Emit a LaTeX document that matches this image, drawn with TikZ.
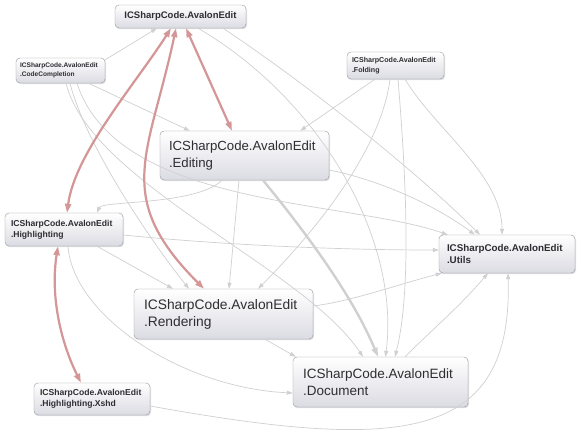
\documentclass[tikz,border=0pt]{standalone}
\usepackage{fontspec}
\setmainfont{Liberation Sans}
\usetikzlibrary{arrows.meta,shadows}

\definecolor{edgegray}{RGB}{208,208,211}
\definecolor{cycred}{RGB}{212,150,150}
\definecolor{boxline}{RGB}{150,150,158}
\definecolor{boxfill}{RGB}{219,219,227}
\definecolor{boxtext}{RGB}{45,45,50}

\begin{document}
\begin{tikzpicture}[x=1pt,y=-1pt,
        module/.style={draw=boxline, rounded corners=4pt, top color=white, bottom color=boxfill,
            text=boxtext, align=left, inner ysep=0pt,
            drop shadow={shadow xshift=1pt, shadow yshift=-1.2pt, opacity=0.25}},
        dep/.style={draw=edgegray, line width=0.7pt, -{Triangle[length=6pt,width=4pt]}},
        cyc/.style={draw=cycred, line width=2.2pt,
            {Triangle[length=9pt,width=6pt]}-{Triangle[length=9pt,width=6pt]}}]

            \fill[white] (0,0) rectangle (583,439);
            \useasboundingbox (0,0) rectangle (583,439);

            \node[module, minimum width=131pt, minimum height=23pt, align=center,
                font={\bfseries\fontsize{9.5}{11}\selectfont}] (ae) at (180.5,16.5) {ICSharpCode.AvalonEdit};
            \node[module, text width=81pt, inner xsep=4pt, minimum height=25pt,
                font={\bfseries\fontsize{6.6}{9}\selectfont}] (cc) at (60.5,70.5) {ICSharpCode.AvalonEdit\\.CodeCompletion};
            \node[module, text width=87pt, inner xsep=5pt, minimum height=27pt,
                font={\bfseries\fontsize{7.1}{10}\selectfont}] (fo) at (395.5,65.5) {ICSharpCode.AvalonEdit\\.Folding};
            \node[module, text width=151pt, inner xsep=9pt, minimum height=49pt,
                font={\fontsize{13.2}{16.5}\selectfont}] (ed) at (244.5,155.5) {ICSharpCode.AvalonEdit\\.Editing};
            \node[module, text width=106pt, inner xsep=6pt, minimum height=33pt,
                font={\bfseries\fontsize{8.6}{11}\selectfont}] (hl) at (64,229.5) {ICSharpCode.AvalonEdit\\.Highlighting};
            \node[module, text width=120pt, inner xsep=8pt, minimum height=38pt,
                font={\bfseries\fontsize{9.8}{12.5}\selectfont}] (ut) at (507,254) {ICSharpCode.AvalonEdit\\.Utils};
            \node[module, text width=159pt, inner xsep=10pt, minimum height=50pt,
                font={\fontsize{13.8}{17}\selectfont}] (re) at (223.5,314) {ICSharpCode.AvalonEdit\\.Rendering};
            \node[module, text width=155pt, inner xsep=10pt, minimum height=50pt,
                font={\fontsize{13.5}{17}\selectfont}] (doc) at (380.5,382) {ICSharpCode.AvalonEdit\\.Document};
            \node[module, text width=104pt, inner xsep=6pt, minimum height=32pt,
                font={\bfseries\fontsize{8.6}{11}\selectfont}] (xs) at (92,399) {ICSharpCode.AvalonEdit\\.Highlighting.Xshd};

            \draw[dep] ([yshift=-2pt]cc.north east) -- ([xshift=-23.5pt]ae.south);
            \draw[dep] ([xshift=28pt]cc.south) -- ([xshift=30pt]ed.north west);
            \draw[dep] ([xshift=9.5pt]cc.south) .. controls +(15,60) and +(-40,-50) .. ([xshift=-34.5pt]re.north);
            \draw[dep] ([xshift=5.5pt]cc.south) .. controls +(25,100) and +(-60,-90) .. ([xshift=-17.5pt]doc.north);
            \draw[dep] ([xshift=16.5pt]cc.south) .. controls +(40,125) and +(-100,-35) .. ([xshift=9pt]ut.north west);

            \draw[dep] ([xshift=-20.5pt]fo.south) -- ([xshift=-29pt]ed.north east);
            \draw[dep] ([xshift=-5.5pt]fo.south) .. controls +(-10,80) and +(40,-40) .. ([xshift=34.5pt]re.north);
            \draw[dep] ([xshift=2.5pt]fo.south) .. controls +(10,120) and +(15,-60) .. ([xshift=14.5pt]doc.north);
            \draw[dep] ([xshift=9.5pt]fo.south) .. controls +(30,50) and +(0,-60) .. ([xshift=-5pt]ut.north);

            \draw[dep] ([xshift=42.5pt]ae.south) .. controls +(90,60) and +(-60,-60) .. ([xshift=-27pt]ut.north);
            \draw[dep] ([xshift=17.5pt]ae.south) .. controls +(120,70) and +(15,-120) .. ([xshift=5pt]doc.north);

            \draw[dep] ([xshift=-5.5pt]ed.south) -- ([xshift=5.5pt]re.north);
            \draw[dep, line width=2.4pt, -{Triangle[length=9pt,width=6pt]}] ([xshift=18.5pt]ed.south) .. controls +(45,55) and +(-25,-60) .. ([xshift=-2.5pt]doc.north);
            \draw[dep] ([yshift=-14.5pt]ed.east) .. controls +(50,10) and +(-40,-30) .. ([xshift=36pt]ut.north west);
            \draw[dep] ([xshift=-22.5pt]ed.south) .. controls +(-25,25) and +(5,-12) .. ([xshift=33pt]hl.north);

            \draw[dep] ([xshift=33pt]hl.south) -- ([xshift=-50.5pt]re.north);
            \draw[dep] ([yshift=-5.5pt]hl.east) .. controls +(100,10) and +(-100,0) .. ([yshift=4pt]ut.west);
            \draw[dep] ([xshift=4pt]hl.south) .. controls +(5,70) and +(-110,-5) .. ([yshift=-11pt]doc.west);

            \draw[dep] ([xshift=41.5pt]re.south) -- ([xshift=3pt]doc.north west);
            \draw[dep] ([yshift=8pt]re.east) .. controls +(40,-5) and +(-40,10) .. ([xshift=3pt]ut.south west);
            \draw[dep] ([xshift=24.5pt]doc.north) .. controls +(30,-30) and +(-30,35) .. ([xshift=-19pt]ut.south);
            \draw[dep] ([yshift=-7pt]xs.east) .. controls +(250,45) and +(5,170) .. ([xshift=1pt]ut.south);

            \draw[cyc] ([xshift=5.5pt]ae.south) -- ([xshift=-12.5pt]ed.north);
            \draw[cyc] ([xshift=-9.5pt]ae.south) .. controls +(-35,55) and +(8,-60) .. ([xshift=3pt]hl.north);
            \draw[cyc] ([xshift=-4.5pt]ae.south) .. controls +(-27,127) and +(-92,-92) .. ([xshift=-19.5pt]re.north);
            \draw[cyc] ([xshift=-6pt]hl.south) .. controls +(-8,50) and +(-20,-40) .. ([xshift=-11pt]xs.north);
        \end{tikzpicture}
\end{document}
